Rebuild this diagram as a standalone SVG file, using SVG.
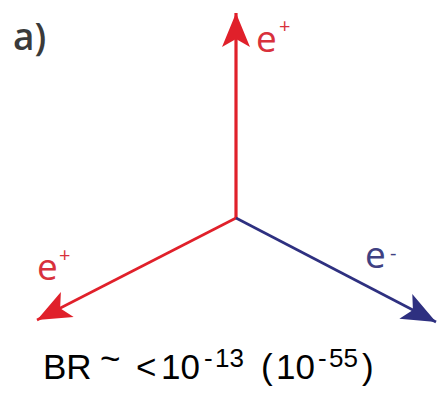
<svg xmlns="http://www.w3.org/2000/svg" width="438" height="395" viewBox="0 0 438 395">
<style>
.lbl{font-family:"Open Sans","Liberation Sans",sans-serif;font-size:37px}
.red{fill:#d8313c}
.blue{fill:#3f4182}
.sup{font-family:"Open Sans","Liberation Sans",sans-serif;font-size:20px}
.br{font-family:"Liberation Sans",sans-serif;font-size:35px;fill:#000}
.bs{font-family:"Liberation Sans",sans-serif;font-size:26px;fill:#000}
</style>
<defs>
<marker id="hr" markerUnits="userSpaceOnUse" markerWidth="40" markerHeight="40" viewBox="-36 -20 40 40" refX="0" refY="0" orient="auto">
<path d="M0,0 L-34,-14 L-26,0 L-34,14 Z" fill="#e0202a"/>
</marker>
<marker id="hb" markerUnits="userSpaceOnUse" markerWidth="40" markerHeight="40" viewBox="-36 -20 40 40" refX="0" refY="0" orient="auto">
<path d="M0,0 L-34,-14 L-26,0 L-34,14 Z" fill="#2e3080"/>
</marker>
</defs>
<rect width="438" height="395" fill="#fff"/>
<g id="connectors">
<line x1="236" y1="218" x2="236" y2="13" stroke="#e0202a" stroke-width="3.2" marker-end="url(#hr)"/>
<line x1="236" y1="218" x2="37" y2="320" stroke="#e0202a" stroke-width="2.6" marker-end="url(#hr)"/>
<line x1="236" y1="218" x2="436" y2="322" stroke="#2e3080" stroke-width="2.6" marker-end="url(#hb)"/>
</g>
<g id="label-a"><text x="13" y="50" class="lbl" style="font-weight:600;fill:#3a3a3a">a)</text></g>
<g id="label-top"><text x="256" y="52" class="lbl red">e</text><text x="279" y="33" class="sup red">+</text></g>
<g id="label-left"><text x="37" y="280" class="lbl red">e</text><text x="59" y="262" class="sup red">+</text></g>
<g id="label-right"><text x="365" y="268" class="lbl blue">e</text><text x="390" y="260" class="sup blue">-</text></g>
<g id="caption">
<text x="43" y="379" class="br">BR</text>
<text x="100" y="371" class="br">~</text>
<text x="136" y="379" class="br">&lt;</text>
<text x="161" y="379" class="br">10</text>
<text x="204" y="367" class="bs">-</text>
<text x="215" y="367" class="bs">13</text>
<text x="261" y="379" class="br">(</text>
<text x="276" y="379" class="br">10</text>
<text x="318" y="367" class="bs">-</text>
<text x="329" y="367" class="bs">55</text>
<text x="362" y="379" class="br">)</text>
</g>
</svg>
